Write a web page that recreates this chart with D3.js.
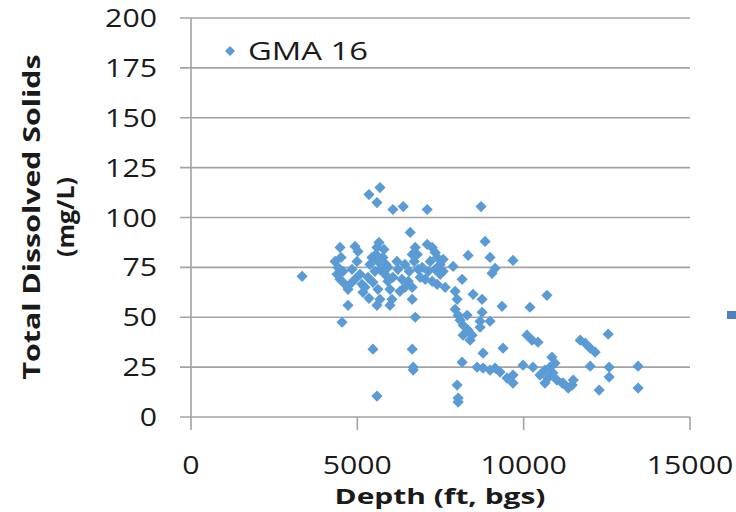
<!DOCTYPE html>
<html>
<head>
<meta charset="utf-8">
<script src="https://cdn.jsdelivr.net/npm/d3@7"></script>
<style>
  html, body { margin: 0; padding: 0; background: #fff; }
  svg { display: block; }
  text { font-family: "Open Sans", "Liberation Sans", sans-serif; fill: #1a1a1a; }
</style>
</head>
<body>
<svg id="chart" width="736" height="512"></svg>
<script>
// Depth (ft, bgs) of each GMA 16 sample
const depth = [
  3340, 4330, 4420, 4510, 4390, 4570, 4480, 4630, 4720, 4480,
  4540, 4720, 4930, 5020, 4990, 4840, 5080, 4930, 5140, 4780,
  5170, 5230, 5380, 5530, 5320, 5470, 5620, 5680, 5440, 5590,
  5650, 5560, 5620, 5680, 5590, 5350, 5770, 5860, 5830, 5920,
  5980, 6040, 5980, 5920, 6070, 5800, 6220, 6340, 6430, 6280,
  6190, 6430, 6560, 6530, 6650, 6710, 6740, 6830, 6890, 6650,
  6650, 6740, 6800, 6950, 7040, 7100, 7250, 7340, 7190, 7400,
  7490, 7340, 7490, 7130, 7250, 6650, 6680, 6680, 5470, 5590,
  5350, 5680, 5590, 6070, 6380, 7100, 6590, 8720, 8840, 8990,
  8330, 9680, 9140, 9050, 7580, 7880, 7580, 7400, 8150, 7640,
  7940, 8000, 8480, 8750, 9350, 10190, 10700, 7940, 8030, 8300,
  8750, 8690, 8990, 8180, 8330, 8180, 8450, 8690, 10100, 10250,
  10430, 8780, 9380, 8150, 8600, 8780, 8990, 9140, 9500, 9680,
  9680, 9980, 10280, 10490, 10640, 10850, 10940, 10790, 10880, 11000,
  11190, 8000, 8030, 8030, 11700, 11850, 12000, 12150, 12540, 12000,
  12570, 12570, 13440, 13440, 12270, 11160, 11460, 11490, 11340, 10730,
  10640, 8090, 8390, 9290
];

// Total dissolved solids (mg/L) of each sample, same order as depth
const tds = [
  70.5, 78, 75, 80, 71.5, 73, 69, 66.5, 64, 85,
  47.5, 56, 85.5, 83, 78, 74, 71.5, 69, 66.5, 66.5,
  62.5, 65, 76.5, 73, 70, 67.5, 78, 74, 80, 85,
  87.5, 81.5, 64, 59, 56, 59.5, 80, 76.5, 71.5, 68,
  64, 59, 56, 75, 70, 84, 74, 69, 65, 63,
  78, 76.5, 73, 68, 81.5, 78, 85, 74, 70, 65,
  59, 50, 81.5, 75, 69, 86.5, 85, 82.5, 78, 80,
  76.5, 74, 71.5, 73, 68, 34, 25, 23.5, 34, 10.5,
  111.5, 115, 107.5, 104, 105.5, 104, 92.5, 105.5, 88, 80,
  81, 78.5, 74.5, 72, 79, 75.5, 73, 66.5, 69, 65,
  63, 59, 61.5, 59, 55.5, 55, 61, 54, 51, 51,
  52.5, 48, 48, 46, 43.5, 41, 41, 45, 41, 38.5,
  37.5, 32, 34.5, 27.5, 25, 24.5, 23.5, 24.5, 19.5, 21,
  17, 26, 25, 21, 23.5, 30, 27, 25, 22, 18.5,
  17, 16, 9.5, 7.5, 38.5, 37, 34.5, 32.5, 41.5, 25.5,
  25, 20, 25.5, 14.5, 13.5, 17, 16, 18.5, 14.5, 19.5,
  17, 48.5, 38.5, 22.5
];

const seriesName = "GMA 16";
const xTicks = [0, 5000, 10000, 15000];
const yTicks = [0, 25, 50, 75, 100, 125, 150, 175, 200];
const xTitle = "Depth (ft, bgs)";
const yTitleLines = ["Total Dissolved Solids", "(mg/L)"];

const samples = depth.map((d, i) => ({ depth: d, tds: tds[i] }));

const svg = d3.select("#chart");
const plotLeft = 191, plotRight = 690, plotTop = 18, plotBottom = 417;

const x = d3.scaleLinear().domain([0, 15000]).range([plotLeft, plotRight]);
const y = d3.scaleLinear().domain([0, 200]).range([plotBottom, plotTop]);

const gridColor = "#a3a3a3";

// horizontal gridlines, extended left past the axis as tick marks
svg.append("g")
  .selectAll("line")
  .data(yTicks)
  .join("line")
  .attr("x1", plotLeft - 11)
  .attr("x2", plotRight)
  .attr("y1", d => y(d))
  .attr("y2", d => y(d))
  .attr("stroke", gridColor)
  .attr("stroke-width", 1.6);

// y axis line
svg.append("line")
  .attr("x1", plotLeft).attr("x2", plotLeft)
  .attr("y1", y(200)).attr("y2", plotBottom)
  .attr("stroke", gridColor).attr("stroke-width", 1.6);

// x axis ticks (downward)
svg.append("g")
  .selectAll("line")
  .data(xTicks)
  .join("line")
  .attr("x1", d => x(d)).attr("x2", d => x(d))
  .attr("y1", plotBottom).attr("y2", plotBottom + 13)
  .attr("stroke", gridColor).attr("stroke-width", 1.6);

const digitW = 17.3;

// y tick labels
svg.append("g")
  .selectAll("text")
  .data(yTicks)
  .join("text")
  .attr("x", 157)
  .attr("y", d => y(d))
  .attr("dy", "0.36em")
  .attr("text-anchor", "end")
  .attr("font-size", 25)
  .attr("textLength", d => String(d).length * digitW)
  .attr("lengthAdjust", "spacingAndGlyphs")
  .text(d => d);

// x tick labels
svg.append("g")
  .selectAll("text")
  .data(xTicks)
  .join("text")
  .attr("x", d => x(d))
  .attr("y", 465)
  .attr("dy", "0.36em")
  .attr("text-anchor", "middle")
  .attr("font-size", 25)
  .attr("textLength", d => String(d).length * digitW)
  .attr("lengthAdjust", "spacingAndGlyphs")
  .text(d => d);

// x axis title
svg.append("text")
  .attr("x", 440)
  .attr("y", 496)
  .attr("dy", "0.36em")
  .attr("text-anchor", "middle")
  .attr("font-size", 22)
  .attr("font-weight", "bold")
  .attr("textLength", 211)
  .attr("lengthAdjust", "spacingAndGlyphs")
  .text(xTitle);

// y axis title, two rotated lines
const yTitle = svg.append("g").attr("transform", "translate(0,217) rotate(-90)");
yTitle.append("text")
  .attr("x", 0).attr("y", 32)
  .attr("dy", "0.36em")
  .attr("text-anchor", "middle")
  .attr("font-size", 23)
  .attr("font-weight", "bold")
  .attr("textLength", 325)
  .attr("lengthAdjust", "spacingAndGlyphs")
  .text(yTitleLines[0]);
yTitle.append("text")
  .attr("x", 0).attr("y", 66)
  .attr("dy", "0.36em")
  .attr("text-anchor", "middle")
  .attr("font-size", 23)
  .attr("font-weight", "bold")
  .attr("textLength", 80)
  .attr("lengthAdjust", "spacingAndGlyphs")
  .text(yTitleLines[1]);

const markerColor = "#5b9bd5";
const diamond = "M0,-5.6L5.6,0L0,5.6L-5.6,0Z";

// sample markers
svg.append("g")
  .selectAll("path")
  .data(samples)
  .join("path")
  .attr("d", diamond)
  .attr("transform", d => `translate(${x(d.depth)},${y(d.tds)})`)
  .attr("fill", markerColor);

// legend
const legend = svg.append("g").attr("transform", "translate(230,51)");
legend.append("path").attr("d", "M0,-5L5,0L0,5L-5,0Z").attr("fill", markerColor);
legend.append("text")
  .attr("x", 18).attr("y", 0).attr("dy", "0.36em")
  .attr("font-size", 25)
  .attr("textLength", 120)
  .attr("lengthAdjust", "spacingAndGlyphs")
  .text(seriesName);

// edge of a neighbouring legend key at the right border
svg.append("rect")
  .attr("x", 727).attr("y", 311)
  .attr("width", 9).attr("height", 8)
  .attr("fill", "#4f81bd");
</script>
</body>
</html>
